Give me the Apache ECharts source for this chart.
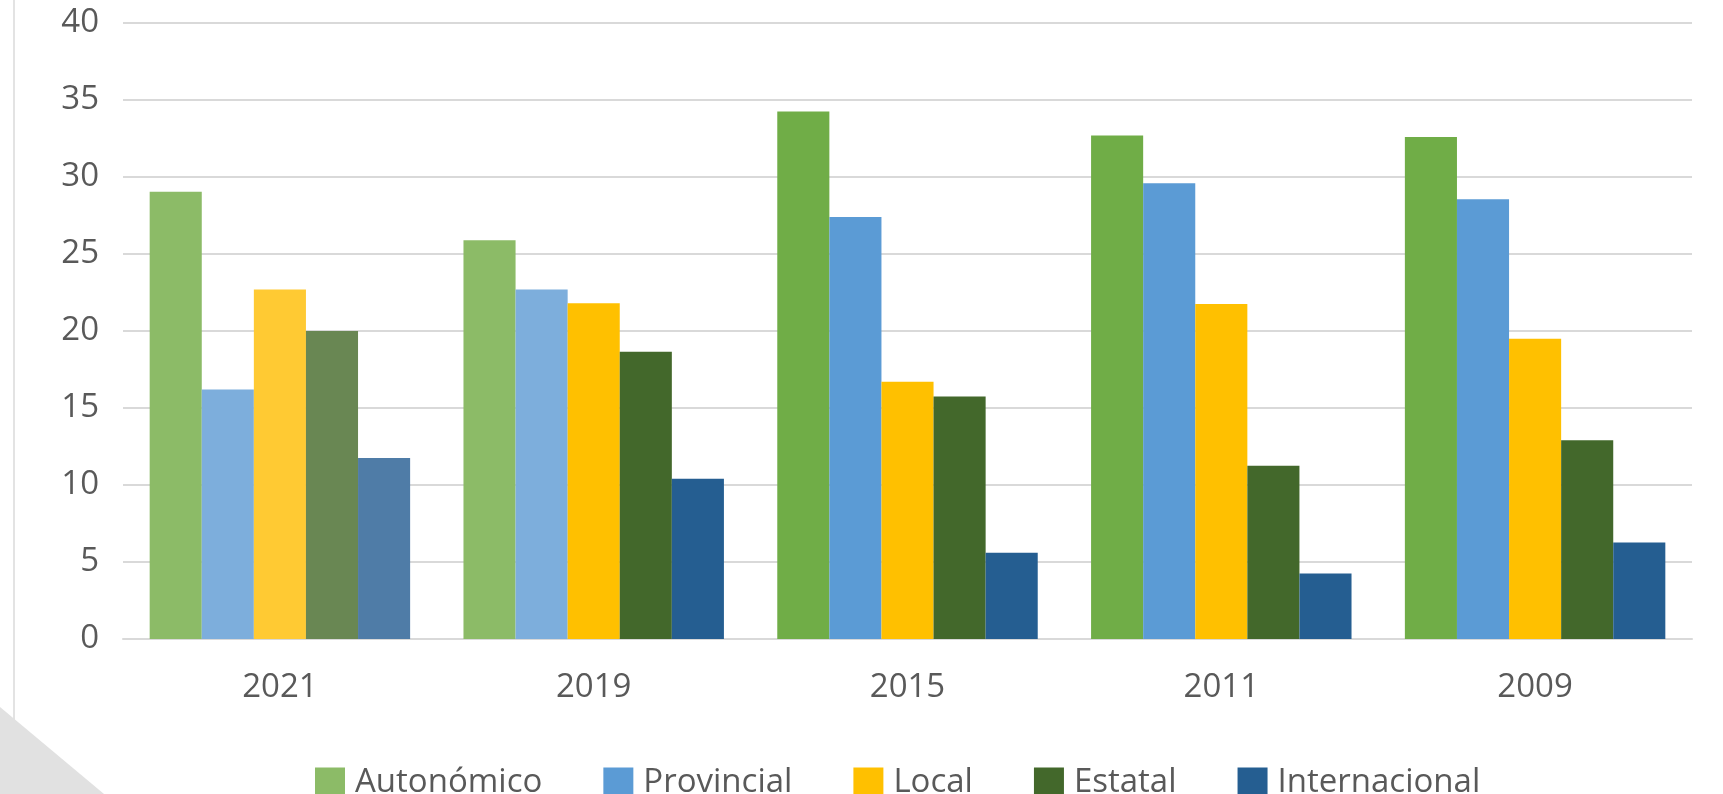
<!DOCTYPE html>
<html>
<head>
<meta charset="utf-8">
<script src="https://cdn.jsdelivr.net/npm/echarts@6/dist/echarts.min.js"></script>
<style>
html,body{margin:0;padding:0;background:#fff;}
#chart{width:1723px;height:794px;}
</style>
</head>
<body>
<div id="chart"></div>
<script>
// ---- data ----
const categories = ['2021', '2019', '2015', '2011', '2009'];
const seriesNames = ['Autonómico', 'Provincial', 'Local', 'Estatal', 'Internacional'];
const autonomico    = [29.05, 25.9, 34.25, 32.7, 32.6];
const provincial    = [16.2, 22.7, 27.4, 29.6, 28.55];
const local         = [22.7, 21.8, 16.7, 21.75, 19.5];
const estatal       = [20.0, 18.65, 15.75, 11.25, 12.9];
const internacional = [11.75, 10.4, 5.6, 4.25, 6.27];
const yTicks = [0, 5, 10, 15, 20, 25, 30, 35, 40];

// ---- styles ----
const baseColors  = ['#70AD47', '#5B9BD5', '#FFC000', '#43682B', '#255E91'];
const lightColors = ['#8CBB67', '#7DAEDC', '#FFCA33', '#698753', '#4F7CA7'];
// lighter tint per category (rows) and series (columns)
const lightMask = [
  [true, true, true, true, true],      // 2021
  [true, true, false, false, false],   // 2019
  [false, false, false, false, false], // 2015
  [false, false, false, false, false], // 2011
  [false, false, false, false, false]  // 2009
];
const legendColors = ['#8CBB67', '#5B9BD5', '#FFC000', '#43682B', '#255E91'];

const allValues = [autonomico, provincial, local, estatal, internacional];
const FONT = '"Open Sans", sans-serif';

const series = allValues.map((vals, si) => ({
  name: seriesNames[si],
  type: 'bar',
  barGap: '0%',
  barCategoryGap: '17%',
  itemStyle: { color: baseColors[si] },
  data: vals.map((v, ci) => ({
    value: v,
    itemStyle: { color: lightMask[ci][si] ? lightColors[si] : baseColors[si] }
  }))
}));

const chart = echarts.init(document.getElementById('chart'), null, { renderer: 'canvas' });
chart.setOption({
  backgroundColor: '#ffffff',
  animation: false,
  graphic: [
    { type: 'rect', shape: { x: 13, y: 0, width: 2, height: 794 }, style: { fill: '#e3e3e3' }, silent: true },
    { type: 'polygon', shape: { points: [[0, 707], [104, 794], [0, 794]] }, style: { fill: '#e1e1e1' }, silent: true }
  ],
  grid: { left: 123, right: 31, top: 23, bottom: 155 },
  legend: {
    left: 310,
    top: 761,
    itemWidth: 30,
    itemHeight: 30,
    itemGap: 61,
    icon: 'rect',
    textStyle: { fontFamily: FONT, fontSize: 33, color: '#595959', padding: [0, 0, 0, 5] },
    data: seriesNames.map((n, i) => ({ name: n, itemStyle: { color: legendColors[i] } }))
  },
  xAxis: {
    type: 'category',
    data: categories,
    axisLine: { show: true, lineStyle: { color: '#d9d9d9', width: 2 } },
    axisTick: { show: false },
    axisLabel: { fontFamily: FONT, fontSize: 33, color: '#595959', margin: 32 }
  },
  yAxis: {
    type: 'value',
    min: yTicks[0],
    max: yTicks[yTicks.length - 1],
    interval: 5,
    axisLine: { show: false },
    axisTick: { show: false },
    splitLine: { lineStyle: { color: '#d9d9d9', width: 2 } },
    axisLabel: { fontFamily: FONT, fontSize: 33, color: '#595959', margin: 24 }
  },
  series: series
});
</script>
</body>
</html>
